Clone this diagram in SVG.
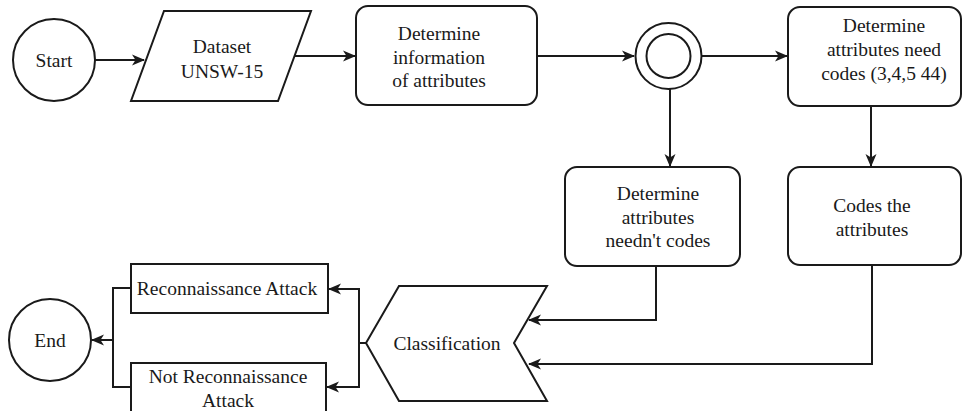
<svg xmlns="http://www.w3.org/2000/svg" width="962" height="411" viewBox="0 0 962 411">
<defs>
<style>
.s{fill:#fff;stroke:#1a1a1a;stroke-width:2}
.c{fill:none;stroke:#1a1a1a;stroke-width:2}
.t{font-family:'Liberation Serif','DejaVu Serif','Times New Roman',serif;font-size:19.5px;fill:#1a1a1a;text-anchor:middle;dominant-baseline:central}
</style>
<marker id="a" viewBox="0 0 13 13" refX="12" refY="6.5" markerWidth="13" markerHeight="13" markerUnits="userSpaceOnUse" orient="auto">
<path d="M0,1 L13,6.5 L0,12 L3.5,6.5 z" fill="#1a1a1a"/>
</marker>
</defs>
<g id="connectors">
<path class="c" d="M95,60 H144" marker-end="url(#a)"/>
<path class="c" d="M295,56 H355" marker-end="url(#a)"/>
<path class="c" d="M537,56 H634" marker-end="url(#a)"/>
<path class="c" d="M702,56 H787" marker-end="url(#a)"/>
<path class="c" d="M670,89 V166" marker-end="url(#a)"/>
<path class="c" d="M871,106 V166" marker-end="url(#a)"/>
<path class="c" d="M656,266 V320 H529" marker-end="url(#a)"/>
<path class="c" d="M872,265 V364 H529" marker-end="url(#a)"/>
<path class="c" d="M366,343 H359 V289 H329" marker-end="url(#a)"/>
<path class="c" d="M359,343 V387 H327" marker-end="url(#a)"/>
<path class="c" d="M131,288 H113 V387 H131"/>
<path class="c" d="M113,340 H92" marker-end="url(#a)"/>
</g>
<g id="start">
<circle class="s" cx="54" cy="60" r="41"/>
<text class="t" x="54" y="60">Start</text>
</g>
<g id="dataset">
<polygon class="s" points="164,11 311,11 278,101 131,101"/>
<text class="t" x="222" y="46">Dataset</text>
<text class="t" x="222" y="71">UNSW-15</text>
</g>
<g id="info">
<rect class="s" x="356" y="6" width="181" height="99" rx="12"/>
<text class="t" x="439" y="33">Determine</text>
<text class="t" x="439" y="57">information</text>
<text class="t" x="439" y="80">of attributes</text>
</g>
<g id="decision">
<circle class="s" cx="668.5" cy="56" r="33"/>
<circle class="s" cx="668.5" cy="56" r="22"/>
</g>
<g id="need">
<rect class="s" x="788" y="7" width="173" height="99" rx="12"/>
<text class="t" x="884" y="25">Determine</text>
<text class="t" x="884" y="49">attributes need</text>
<text class="t" x="884" y="73">codes (3,4,5 44)</text>
</g>
<g id="codes">
<rect class="s" x="788" y="167" width="173" height="98" rx="12"/>
<text class="t" x="872" y="205">Codes the</text>
<text class="t" x="872" y="229">attributes</text>
</g>
<g id="neednt">
<rect class="s" x="565" y="167" width="175" height="99" rx="12"/>
<text class="t" x="658" y="193">Determine</text>
<text class="t" x="658" y="217">attributes</text>
<text class="t" x="658" y="240">needn't codes</text>
</g>
<g id="classification">
<polygon class="s" points="399,286 547,286 514,343 547,401 399,401 366,343"/>
<text class="t" x="447" y="343">Classification</text>
</g>
<g id="recon">
<rect class="s" x="131" y="264" width="197" height="49"/>
<text class="t" x="227" y="288">Reconnaissance Attack</text>
</g>
<g id="notrecon">
<rect class="s" x="131" y="363" width="195" height="60"/>
<text class="t" x="228" y="376">Not Reconnaissance</text>
<text class="t" x="228" y="400">Attack</text>
</g>
<g id="end">
<circle class="s" cx="50" cy="340" r="41"/>
<text class="t" x="50" y="340">End</text>
</g>
</svg>
